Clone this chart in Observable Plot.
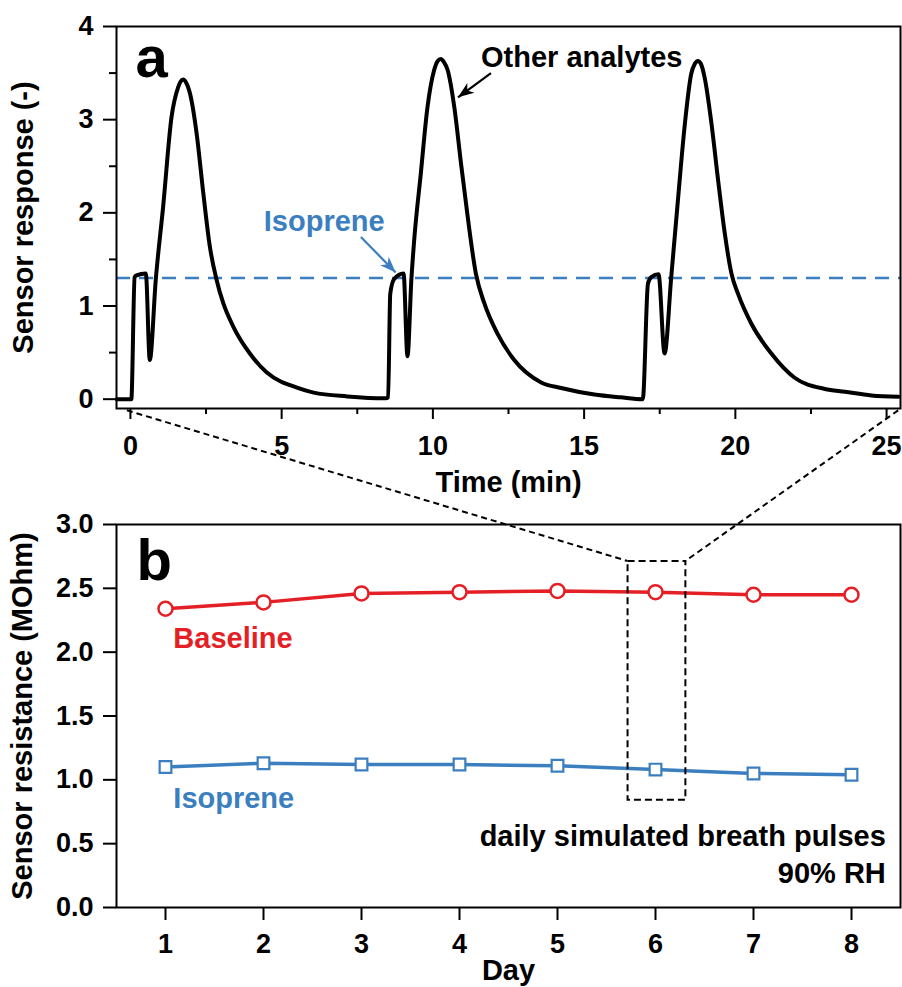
<!DOCTYPE html>
<html><head><meta charset="utf-8">
<script src="https://cdn.jsdelivr.net/npm/d3@7"></script>
<script src="https://cdn.jsdelivr.net/npm/@observablehq/plot@0.6"></script>
<style>
html,body{margin:0;padding:0;background:#fff;overflow:hidden;}
#wrap{position:relative;width:902px;height:987px;}
#wrap > svg{display:block;}
#overlay{position:absolute;left:0;top:0;pointer-events:none;}
</style></head><body><div id="wrap"></div>
<script>
// ---------- Panel a: sensor response vs time ----------
const timeMin = [-0.45, 0.03, 0.14, 0.20, 0.51, 0.64, 0.84, 1.08, 1.36, 1.58, 1.66, 1.74, 1.84, 1.97, 2.19, 2.41, 2.63, 2.85, 3.07, 3.40, 3.95, 4.50, 4.97, 5.28, 6.06, 7.17, 8.44,
  8.52, 8.59, 8.72, 9.03, 9.16, 9.29, 9.38, 9.60, 9.82, 10.04, 10.16, 10.26, 10.36, 10.49, 10.71, 10.93, 11.15, 11.42, 11.70, 12.14, 12.69, 13.58, 14.24, 15.34, 16.20, 16.94,
  17.11, 17.22, 17.46, 17.66, 17.88, 18.10, 18.32, 18.54, 18.66, 18.76, 18.86, 18.98, 19.21, 19.43, 19.65, 19.87, 20.09, 20.53, 21.19, 21.96, 22.96, 23.62, 24.50, 25.39];
const response = [0.00, 0.00, 1.31, 1.33, 1.35, 0.42, 1.29, 2.06, 3.03, 3.35, 3.41, 3.43, 3.40, 3.28, 2.85, 2.21, 1.63, 1.28, 1.03, 0.78, 0.49, 0.29, 0.19, 0.15, 0.07, 0.03, 0.01,
  0.02, 1.13, 1.29, 1.35, 0.46, 1.29, 1.70, 2.42, 3.13, 3.53, 3.63, 3.65, 3.62, 3.53, 3.13, 2.53, 1.96, 1.35, 1.03, 0.70, 0.42, 0.18, 0.12, 0.05, 0.02, 0.00,
  1.24, 1.31, 1.34, 0.49, 1.31, 2.13, 2.92, 3.49, 3.60, 3.63, 3.60, 3.46, 2.96, 2.35, 1.78, 1.35, 1.13, 0.81, 0.49, 0.23, 0.11, 0.08, 0.04, 0.025];
const isopreneLevel = [1.3];
const timeTicks = [0, 5, 10, 15, 20, 25];
const timeMinorTicks = [2.5, 7.5, 12.5, 17.5, 22.5];
const responseTicks = [0, 1, 2, 3, 4];
const responseMinorTicks = [0.5, 1.5, 2.5, 3.5];

// ---------- Panel b: resistance vs day ----------
const days = [1, 2, 3, 4, 5, 6, 7, 8];
const baselineMOhm = [2.34, 2.39, 2.46, 2.47, 2.48, 2.47, 2.45, 2.45];
const isopreneMOhm = [1.10, 1.13, 1.12, 1.12, 1.11, 1.08, 1.05, 1.04];
const dayTicks = [1, 2, 3, 4, 5, 6, 7, 8];
const resistanceTicks = [0, 0.5, 1.0, 1.5, 2.0, 2.5, 3.0];

// zoom box (day 6) and its source range in panel a
const zoomDays = [5.72, 6.31];
const zoomResistance = [0.84, 2.71];
const zoomTime = [-0.1, 25.4];
const zoomResponse = -0.125;

const FONT = "'Liberation Sans', Arial, Helvetica, sans-serif";
const RED = "#e41f26", BLUE = "#3b7fc0";
const seriesA = timeMin.map((t, i) => ({t, r: response[i]}));
const seriesB = days.map((d, i) => ({d, base: baselineMOhm[i], iso: isopreneMOhm[i]}));
const arrowsA = [
  {x1: 11.92, y1: 3.50, x2: 10.83, y2: 3.24, color: "black"},
  {x1: 7.62, y1: 1.74, x2: 8.77, y2: 1.36, color: BLUE}
];
const arrowHead = {draw(ctx) {
  const L = 16, w = 6;
  ctx.moveTo(0, 0); ctx.lineTo(w, L); ctx.lineTo(0, L * 0.72); ctx.lineTo(-w, L); ctx.closePath();
}};
const txt = {fontWeight: "bold", fontFamily: FONT, lineAnchor: "middle"};

function panelA(extra) {
  return Plot.plot({
    width: 902, height: 500,
    marginLeft: 116, marginRight: 2, marginTop: 26, marginBottom: 92,
    style: {fontFamily: FONT, fontWeight: "bold", fontSize: "27px", background: "white", overflow: "visible"},
    x: {domain: [-0.46, 25.46], label: null},
    y: {domain: [-0.1, 4], label: null},
    marks: [
      Plot.axisY({ticks: responseTicks, tickSize: 13, tickPadding: 10, tickFormat: d => d, strokeWidth: 2, fontSize: 27, label: null}),
      Plot.axisY({ticks: responseMinorTicks, tickSize: 7, tickFormat: () => "", strokeWidth: 2, label: null}),
      Plot.axisX({ticks: timeTicks, tickSize: 11, tickPadding: 16, tickFormat: d => d, strokeWidth: 2, fontSize: 27, label: null}),
      Plot.axisX({ticks: timeMinorTicks, tickSize: 6, tickFormat: () => "", strokeWidth: 2, label: null}),
      Plot.ruleY(isopreneLevel, {stroke: BLUE, strokeWidth: 2.5, strokeDasharray: "14,9"}),
      Plot.line(seriesA, {x: "t", y: "r", stroke: "black", strokeWidth: 4, curve: "monotone-x", strokeLinejoin: "round"}),
      Plot.frame({stroke: "black", strokeWidth: 2}),
      ...arrowsA.map(a => Plot.link([a], {x1: "x1", y1: "y1", x2: "x2", y2: "y2", stroke: a.color, strokeWidth: 2.2})),
      Plot.text([{x: 11.59, y: 3.67, s: "Other analytes"}], {x: "x", y: "y", text: "s", textAnchor: "start", fontSize: 29, fill: "black", ...txt}),
      Plot.text([{x: 4.41, y: 1.91, s: "Isoprene"}], {x: "x", y: "y", text: "s", textAnchor: "start", fontSize: 29, fill: BLUE, ...txt}),
      Plot.text(["a"], {frameAnchor: "top-left", text: d => d, dx: 19, dy: 32, textAnchor: "start", fontSize: 58, ...txt}),
      Plot.text(["Time (min)"], {frameAnchor: "bottom", text: d => d, dy: 74, textAnchor: "middle", fontSize: 29, ...txt}),
      Plot.text(["Sensor response (-)"], {frameAnchor: "left", text: d => d, dx: -93, rotate: -90, textAnchor: "middle", fontSize: 29, ...txt}),
      ...extra
    ]
  });
}

const a0 = panelA([]);
const sxA0 = a0.scale("x"), syA0 = a0.scale("y");
const heads = arrowsA.map(a => {
  const ux = sxA0.apply(a.x2) - sxA0.apply(a.x1);
  const uy = syA0.apply(a.y2) - syA0.apply(a.y1);
  const ang = Math.atan2(ux, -uy) * 180 / Math.PI;
  return Plot.dot([a], {x: "x2", y: "y2", symbol: arrowHead, rotate: ang, r: 5, fill: a.color, stroke: "none"});
});
const chartA = panelA(heads);

const chartB = Plot.plot({
  width: 902, height: 487,
  marginLeft: 116, marginRight: 2, marginTop: 24, marginBottom: 80,
  style: {fontFamily: FONT, fontWeight: "bold", fontSize: "27px", background: "white", overflow: "visible"},
  x: {domain: [0.5, 8.5], label: null},
  y: {domain: [0, 3], label: null},
  marks: [
    Plot.axisY({ticks: resistanceTicks, tickSize: 13, tickPadding: 10, tickFormat: d3.format(".1f"), strokeWidth: 2, fontSize: 27, label: null}),
    Plot.axisX({ticks: dayTicks, tickSize: 13, tickPadding: 13, tickFormat: d => d, strokeWidth: 2, fontSize: 27, label: null}),
    Plot.line(seriesB, {x: "d", y: "base", stroke: RED, strokeWidth: 3.5}),
    Plot.dot(seriesB, {x: "d", y: "base", r: 7, stroke: RED, strokeWidth: 2.5, fill: "white"}),
    Plot.line(seriesB, {x: "d", y: "iso", stroke: BLUE, strokeWidth: 3.5}),
    Plot.dot(seriesB, {x: "d", y: "iso", symbol: "square", r: 6.6, stroke: BLUE, strokeWidth: 2.2, fill: "white"}),
    Plot.rect([{x1: zoomDays[0], x2: zoomDays[1], y1: zoomResistance[0], y2: zoomResistance[1]}],
      {x1: "x1", x2: "x2", y1: "y1", y2: "y2", fill: "none", stroke: "black", strokeWidth: 2, strokeDasharray: "7,4"}),
    Plot.frame({stroke: "black", strokeWidth: 2}),
    Plot.text([{x: 1.08, y: 2.107, s: "Baseline"}], {x: "x", y: "y", text: "s", textAnchor: "start", fontSize: 29, fill: RED, ...txt}),
    Plot.text([{x: 1.08, y: 0.854, s: "Isoprene"}], {x: "x", y: "y", text: "s", textAnchor: "start", fontSize: 29, fill: BLUE, ...txt}),
    Plot.text([{x: 8.35, y: 0.558, s: "daily simulated breath pulses"}], {x: "x", y: "y", text: "s", textAnchor: "end", fontSize: 29, fill: "black", ...txt}),
    Plot.text([{x: 8.35, y: 0.261, s: "90% RH"}], {x: "x", y: "y", text: "s", textAnchor: "end", fontSize: 29, fill: "black", ...txt}),
    Plot.text(["b"], {frameAnchor: "top-left", text: d => d, dx: 20, dy: 37, textAnchor: "start", fontSize: 58, ...txt}),
    Plot.text(["Day"], {frameAnchor: "bottom", text: d => d, dy: 63, textAnchor: "middle", fontSize: 29, ...txt}),
    Plot.text(["Sensor resistance (MOhm)"], {frameAnchor: "left", text: d => d, dx: -94, rotate: -90, textAnchor: "middle", fontSize: 29, ...txt})
  ]
});

const wrap = document.getElementById("wrap");
wrap.appendChild(chartA);
wrap.appendChild(chartB);

// zoom connectors, positioned through both panels' scales
const sxA = chartA.scale("x"), syA = chartA.scale("y");
const sxB = chartB.scale("x"), syB = chartB.scale("y");
const offB = +chartA.getAttribute("height");
const connectors = [
  [sxA.apply(zoomTime[0]), syA.apply(zoomResponse), sxB.apply(zoomDays[0]), syB.apply(zoomResistance[1]) + offB],
  [sxA.apply(zoomTime[1]), syA.apply(zoomResponse), sxB.apply(zoomDays[1]), syB.apply(zoomResistance[1]) + offB]
];
const ov = d3.select(wrap).append("svg").attr("id", "overlay").attr("width", 902).attr("height", 987);
ov.selectAll("line").data(connectors).join("line")
  .attr("x1", d => d[0]).attr("y1", d => d[1]).attr("x2", d => d[2]).attr("y2", d => d[3])
  .attr("stroke", "black").attr("stroke-width", 2).attr("stroke-dasharray", "6,4");
</script></body></html>
